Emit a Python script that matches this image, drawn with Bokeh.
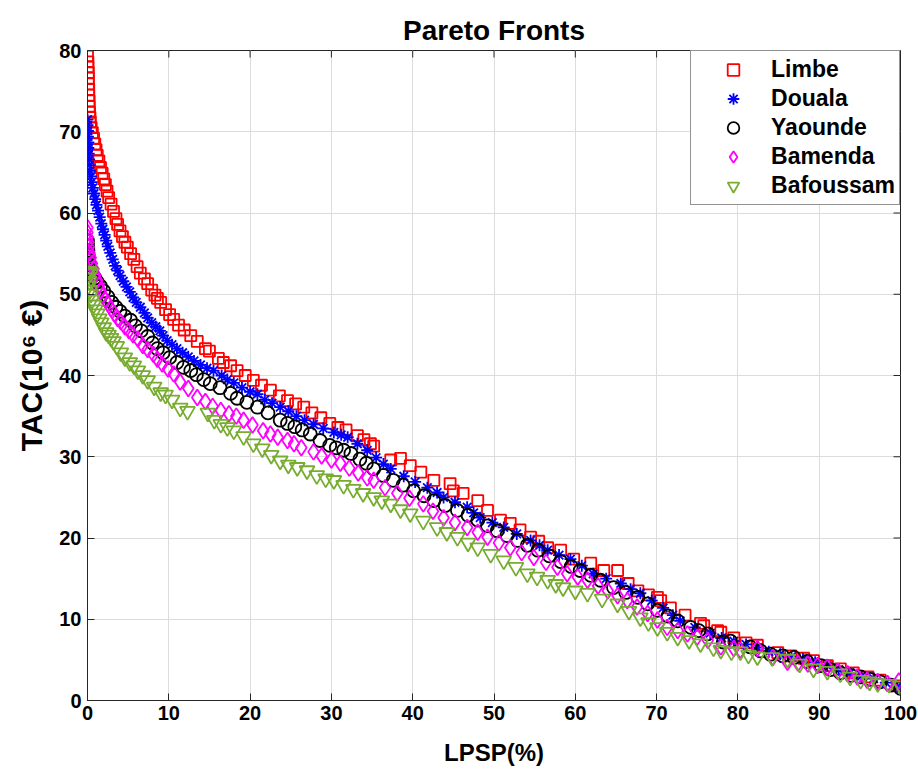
from bokeh.plotting import figure
from bokeh.models import FixedTicker
from bokeh.embed import file_html
from bokeh.resources import INLINE

# ---- Pareto front samples: LPSP (%) vs TAC (10^6 EUR) ----
limbe_x = [0.0, 0.05, 0.05, 0.1, 0.1, 0.1, 0.15, 0.15, 0.2, 0.2, 0.25, 0.3, 0.35, 0.45, 0.6, 0.75, 0.9, 1.05,
           1.2, 1.4, 1.6, 1.8, 2.0, 2.2, 2.4, 2.6, 2.9, 3.2, 3.5, 3.7, 4.0, 4.3, 4.6, 4.9, 5.3, 5.7, 6.1, 6.5,
           7.0, 7.4, 7.9, 8.3, 8.6, 9.0, 9.6, 10.1, 10.6, 11.2, 11.9, 12.7, 13.5, 14.5, 15.0, 16.1, 16.7, 17.6,
           18.4, 19.4, 20.4, 21.4, 22.5, 23.6, 24.6, 25.6, 26.6, 27.6, 28.7, 29.8, 30.8, 31.8, 33.2, 34.0, 34.8,
           35.2, 37.3, 38.5, 39.7, 41.0, 42.6, 44.6, 45.0, 46.2, 48.0, 49.2, 50.8, 52.0, 53.2, 54.5, 55.5, 56.6,
           58.2, 59.8, 61.9, 63.5, 65.2, 66.5, 67.7, 69.0, 70.1, 70.5, 71.7, 73.5, 75.4, 75.8, 77.5, 77.9, 79.5,
           81.0, 82.4, 84.9, 86.5, 88.1, 89.3, 91.0, 92.6, 94.2, 96.0, 97.5, 99.6]
limbe_y = [79.3, 78.6, 78.0, 77.3, 76.6, 75.9, 75.2, 74.5, 73.8, 73.1, 72.4, 71.8, 71.2, 70.5, 69.9, 69.2, 68.5, 67.8,
           67.1, 66.4, 65.6, 64.9, 64.2, 63.5, 62.7, 61.9, 61.1, 60.2, 59.3, 58.6, 57.8, 57.1, 56.4, 55.8, 55.0, 54.3,
           53.4, 52.6, 51.9, 51.3, 50.5, 49.9, 49.5, 49.0, 48.1, 47.5, 46.9, 46.2, 45.6, 44.9, 44.2, 43.3, 43.0, 42.1,
           41.6, 41.2, 40.6, 40.0, 39.4, 38.8, 38.2, 37.5, 36.9, 36.5, 36.1, 35.4, 34.8, 34.1, 33.6, 33.3, 32.6, 32.1,
           31.6, 31.3, 29.6, 29.8, 28.9, 28.1, 27.1, 26.7, 25.8, 25.5, 24.6, 23.4, 22.2, 21.8, 21.0, 20.1, 19.6, 18.8,
           18.5, 17.4, 16.9, 16.0, 16.0, 14.4, 13.5, 13.0, 12.7, 12.3, 11.4, 10.5, 9.5, 9.2, 8.6, 8.4, 7.7,
           7.1, 6.8, 5.9, 5.5, 5.2, 4.9, 4.3, 3.9, 3.4, 2.9, 2.5, 1.8]

douala_x = [0.0, 0.0, 0.05, 0.05, 0.1, 0.1, 0.15, 0.2, 0.25, 0.3, 0.4, 0.5, 0.65, 0.8, 0.95, 1.1, 1.3, 1.5, 1.7,
            1.9, 2.1, 2.3, 2.5, 2.8, 3.1, 3.4, 3.7, 4.0, 4.4, 4.8, 5.2, 5.6, 6.0, 6.5, 7.0, 7.4, 7.9, 8.4, 8.9,
            9.3, 9.8, 10.4, 11.0, 11.7, 12.4, 13.1, 13.9, 14.7, 15.5, 16.5, 17.2, 18.0, 19.0, 20.0, 20.9, 21.8,
            22.7, 23.7, 24.7, 25.7, 26.7, 27.8, 29.0, 30.3, 31.2, 32.0, 33.2, 34.4, 35.5, 36.4, 37.3, 38.9, 40.3,
            41.8, 43.0, 43.8, 45.2, 46.7, 47.5, 48.3, 49.8, 51.2, 52.8, 54.5, 55.6, 56.6, 58.0, 59.4, 60.8, 62.2,
            63.8, 65.6, 66.8, 68.0, 69.4, 70.8, 72.0, 72.9, 74.7, 76.6, 78.0, 79.5, 81.0, 82.4, 83.8, 85.2, 86.6,
            88.0, 89.5, 91.0, 92.4, 93.8, 95.2, 96.7, 98.2, 99.6]
douala_y = [71.5, 70.8, 70.1, 69.4, 68.7, 68.0, 67.3, 66.6, 65.9, 65.2, 64.5, 63.8, 63.1, 62.4, 61.7, 61.0, 60.3, 59.5,
            58.7, 58.0, 57.3, 56.6, 55.9, 55.1, 54.3, 53.5, 52.9, 52.3, 51.6, 50.9, 50.3, 49.6, 49.0, 48.4, 47.7, 47.1,
            46.5, 46.0, 45.5, 44.9, 44.3, 43.8, 43.3, 42.8, 42.3, 41.8, 41.3, 40.9, 40.6, 40.0, 39.5, 39.1, 38.5, 38.0,
            37.7, 37.0, 36.6, 36.1, 35.6, 35.0, 34.5, 34.0, 33.5, 33.0, 32.7, 32.4, 31.6, 30.8, 29.9, 29.1, 28.5, 27.6,
            26.9, 26.2, 25.6, 25.0, 24.4, 23.8, 23.1, 22.5, 21.9, 21.3, 20.5, 19.7, 19.1, 18.5, 17.9, 17.4, 16.6, 15.6,
            15.0, 14.4, 13.7, 13.2, 12.3, 11.4, 10.5, 9.8, 9.0, 8.3, 7.7, 7.3, 6.9, 6.5, 6.0, 5.7, 5.4,
            5.1, 4.7, 4.3, 3.8, 3.4, 3.0, 2.7, 2.2, 1.7]

yaounde_x = [0.0, 0.0, 0.05, 0.1, 0.15, 0.25, 0.4, 0.6, 0.9, 1.2, 1.6, 2.0, 2.5, 3.0, 3.5, 4.0, 4.6, 5.3, 5.9, 6.6,
             7.4, 8.0, 8.6, 9.3, 10.1, 11.0, 11.8, 12.7, 13.4, 14.3, 15.1, 16.3, 17.6, 18.4, 19.6, 20.9, 22.2,
             23.7, 24.6, 25.5, 26.4, 27.4, 28.6, 29.8, 30.6, 31.5, 32.4, 33.5, 34.3, 35.2, 36.4, 37.6, 38.8, 40.1,
             41.4, 42.6, 44.0, 45.5, 46.8, 48.0, 49.2, 50.4, 51.6, 52.9, 54.1, 55.4, 56.8, 58.2, 59.5, 60.6, 61.9,
             63.1, 64.7, 66.2, 67.7, 68.9, 70.1, 71.4, 72.6, 74.2, 75.2, 76.3, 78.2, 79.1, 81.5, 82.8, 84.0, 85.5,
             86.9, 88.5, 90.2, 91.4, 92.6, 93.9, 95.1, 96.3, 97.5, 98.8, 100.0]
yaounde_y = [56.6, 56.0, 55.4, 54.8, 54.2, 53.6, 53.0, 52.5, 52.0, 51.5, 51.0, 50.4, 49.7, 49.0, 48.4, 47.9, 47.3, 46.8,
             46.1, 45.5, 44.8, 44.0, 43.3, 42.8, 42.2, 41.6, 41.0, 40.6, 40.1, 39.5, 39.0, 38.5, 37.8, 37.2, 36.7, 36.1,
             35.4, 34.5, 34.1, 33.7, 33.3, 32.8, 32.0, 31.4, 31.1, 30.8, 30.4, 29.7, 29.2, 28.5, 27.7, 27.1, 26.5, 25.8,
             25.2, 24.6, 24.0, 23.4, 22.8, 22.2, 21.5, 20.9, 20.3, 19.7, 19.1, 18.5, 17.8, 17.1, 16.5, 16.0, 15.4,
             14.8, 13.9, 13.3, 12.7, 11.9, 11.1, 10.4, 9.8, 9.0, 8.6, 8.2, 7.2, 7.3, 6.6, 6.1, 5.7, 5.5,
             5.3, 4.8, 4.3, 3.8, 3.4, 3.1, 2.9, 2.6, 2.3, 1.9, 1.5]

bamenda_x = [0.0, 0.0, 0.05, 0.1, 0.15, 0.25, 0.4, 0.55, 0.75, 0.95, 1.2, 1.4, 1.6, 1.9, 2.2, 2.5, 2.9, 3.3, 3.7,
             4.1, 4.6, 5.1, 5.6, 6.2, 6.8, 7.4, 8.1, 8.6, 9.2, 9.9, 10.6, 11.4, 12.4, 13.5, 14.5, 15.4, 16.4, 17.4,
             18.3, 19.2, 20.3, 21.6, 22.5, 23.4, 24.6, 25.4, 26.3, 27.8, 28.8, 30.0, 31.1, 32.2, 33.3, 34.4, 35.2,
             36.6, 38.1, 39.6, 41.3, 42.5, 43.8, 45.2, 46.7, 48.0, 49.2, 50.6, 52.0, 53.4, 54.9, 56.4, 57.8, 59.0,
             60.3, 61.5, 62.8, 64.0, 65.2, 66.4, 67.6, 68.9, 70.1, 71.3, 72.6, 73.8, 75.0, 76.3, 77.9, 79.5, 80.3,
             82.4, 84.3, 86.1, 87.4, 88.6, 89.8, 91.0, 92.3, 93.5, 94.7, 95.9, 97.2, 98.4, 99.8]
bamenda_y = [58.2, 57.6, 57.0, 56.4, 55.8, 55.1, 54.5, 53.8, 53.1, 52.4, 51.7, 51.1, 50.5, 49.8, 49.3, 48.9, 48.2, 47.6,
             47.0, 46.6, 46.0, 45.5, 45.0, 44.5, 43.7, 43.2, 42.6, 42.0, 41.4, 40.8, 40.2, 39.2, 38.4, 37.3, 36.8, 36.2,
             35.7, 35.3, 35.0, 34.5, 33.9, 33.2, 32.8, 32.4, 32.0, 31.6, 31.1, 30.6, 30.1, 29.6, 29.2, 28.6, 28.0, 27.4,
             27.1, 26.2, 25.5, 24.9, 24.2, 23.3, 22.5, 21.9, 21.3, 20.7, 20.1, 19.4, 18.8, 18.2, 17.6, 17.0, 16.4, 15.6,
             15.2, 14.8, 14.1, 13.5, 12.9, 12.3, 11.5, 10.7, 9.9, 9.0, 8.6, 8.2, 7.8, 7.4, 6.6, 6.4, 6.2,
             6.4, 5.3, 4.7, 4.6, 4.5, 4.3, 4.1, 3.6, 3.3, 2.9, 2.5, 2.3, 2.1, 2.4]

bafoussam_x = [0.0, 0.2, 0.4, 0.0, 0.2, 0.1, 0.3, 0.4, 0.55, 0.75, 0.95, 1.2, 1.45, 1.7, 2.0, 2.3, 2.6, 2.9, 3.2,
               3.6, 4.1, 4.6, 5.2, 5.7, 6.2, 6.8, 7.4, 8.2, 9.0, 9.6, 10.4, 11.4, 12.3, 14.8, 15.6, 16.4, 17.2,
               18.0, 19.2, 20.4, 21.5, 22.6, 23.7, 24.7, 25.8, 27.0, 28.2, 29.3, 30.3, 31.5, 32.7, 33.9, 35.2,
               36.2, 37.3, 38.5, 39.7, 41.3, 43.0, 44.2, 45.5, 46.8, 48.0, 49.6, 51.2, 52.7, 54.1, 55.3, 56.6,
               57.6, 58.5, 60.0, 61.5, 63.3, 65.2, 66.6, 68.0, 69.0, 70.1, 71.3, 72.6, 74.0, 75.4, 77.0, 77.9,
               79.2, 80.3, 81.3, 82.4, 84.2, 86.1, 87.6, 89.3, 91.0, 92.6, 93.8, 95.1, 96.2, 97.2, 98.6, 100.0]
bafoussam_y = [52.8, 52.8, 52.6, 52.0, 51.6, 51.0, 50.5, 50.0, 49.3, 48.7, 48.1, 47.6, 47.0, 46.5, 45.9, 45.3, 45.0,
               44.6, 44.2, 43.6, 42.8, 42.2, 41.6, 41.2, 40.6, 40.0, 39.4, 38.6, 37.9, 37.6, 37.0, 36.0, 35.6, 35.4,
               34.5, 34.0, 33.6, 33.2, 32.5, 31.6, 31.0, 30.2, 29.5, 29.0, 28.7, 28.3, 27.7, 27.3, 27.1, 26.5, 26.0,
               25.5, 25.0, 24.6, 24.2, 23.5, 23.0, 22.1, 21.3, 20.7, 20.1, 19.4, 18.8, 18.0, 17.2, 16.4, 15.6, 15.2,
               14.8, 14.3, 13.9, 13.5, 13.2, 12.5, 11.9, 11.0, 10.2, 9.6, 9.0, 8.4, 7.8, 7.4, 7.0, 6.5, 6.2,
               6.0, 6.0, 5.6, 5.4, 5.3, 5.1, 4.5, 3.9, 3.6, 3.3, 2.9, 2.5, 2.3, 2.1, 2.0, 1.8]

series_names = ["Limbe", "Douala", "Yaounde", "Bamenda", "Bafoussam"]
x_ticks = [0, 10, 20, 30, 40, 50, 60, 70, 80, 90, 100]
y_ticks = [0, 10, 20, 30, 40, 50, 60, 70, 80]

FONT = "Liberation Sans"
AXIS_COLOR = "#262626"
FRAME_W, FRAME_H = 813, 650          # plot-area size in pixels
X_MIN, X_MAX, Y_MIN, Y_MAX = 0, 100, 0, 80
TICK_PX = 7

p = figure(width=918, height=773, x_range=(X_MIN, X_MAX), y_range=(Y_MIN, Y_MAX),
           output_backend="svg", toolbar_location=None,
           min_border_left=87, min_border_right=918 - 87 - FRAME_W,
           min_border_top=50, min_border_bottom=773 - 50 - FRAME_H,
           title="Pareto Fronts")

p.title.text_font = FONT
p.title.text_font_size = "28px"
p.title.text_font_style = "bold"
p.title.align = "center"
p.title.text_color = "black"
p.title.offset = 0
p.title.standoff = 10

p.xgrid.ticker = FixedTicker(ticks=x_ticks)
p.ygrid.ticker = FixedTicker(ticks=y_ticks)
p.grid.grid_line_color = "#DCDCDC"
p.grid.grid_line_width = 1
p.outline_line_color = AXIS_COLOR
p.outline_line_width = 1

# inward ticks along the top and right edges of the box
tick_dy = TICK_PX * (Y_MAX - Y_MIN) / FRAME_H
tick_dx = TICK_PX * (X_MAX - X_MIN) / FRAME_W
p.segment(x0=x_ticks, y0=[Y_MAX] * len(x_ticks), x1=x_ticks, y1=[Y_MAX - tick_dy] * len(x_ticks),
          line_color=AXIS_COLOR, line_width=1)
p.segment(x0=[X_MAX] * len(y_ticks), y0=y_ticks, x1=[X_MAX - tick_dx] * len(y_ticks), y1=y_ticks,
          line_color=AXIS_COLOR, line_width=1)

# marker style per series
styles = [
    dict(marker="square", color="#FF0000", size=11),
    dict(marker="asterisk", color="#0000FF", size=12),
    dict(marker="circle", color="#000000", size=13),
    dict(marker="diamond", color="#FF00FF", size=16),
    dict(marker="inverted_triangle", color="#77AC30", size=15),
]
data = [(limbe_x, limbe_y), (douala_x, douala_y), (yaounde_x, yaounde_y),
        (bamenda_x, bamenda_y), (bafoussam_x, bafoussam_y)]

for name, (xs, ys), st in zip(series_names, data, styles):
    p.scatter(xs, ys, marker=st["marker"], size=st["size"], line_color=st["color"],
              fill_color=None, line_width=1.8, legend_label=name)

# axes styling
for ax in (p.xaxis[0], p.yaxis[0]):
    ax.axis_line_color = AXIS_COLOR
    ax.major_tick_line_color = AXIS_COLOR
    ax.major_tick_in = TICK_PX
    ax.major_tick_out = 0
    ax.minor_tick_line_color = None
    ax.major_label_text_font = FONT
    ax.major_label_text_font_style = "bold"
    ax.major_label_text_font_size = "20px"
    ax.major_label_text_color = "black"
    ax.axis_label_text_font = FONT
    ax.axis_label_text_font_style = "bold"
    ax.axis_label_text_color = "black"

p.xaxis.ticker = FixedTicker(ticks=x_ticks)
p.yaxis.ticker = FixedTicker(ticks=y_ticks)
p.xaxis.axis_label = "LPSP(%)"
p.xaxis.axis_label_text_font_size = "24px"
p.xaxis.major_label_standoff = 5
p.xaxis.axis_label_standoff = 16
p.yaxis.axis_label = "TAC(10\u2076 \u20ac)"
p.yaxis.axis_label_text_font_size = "30px"
p.yaxis.major_label_standoff = 6
p.yaxis.axis_label_standoff = 8

leg = p.legend[0]
leg.location = "top_right"
leg.margin = 0
leg.padding = 4
leg.spacing = 0
leg.glyph_height = 29
leg.label_height = 29
leg.glyph_width = 76
leg.label_standoff = 0
leg.label_text_font = FONT
leg.label_text_font_style = "bold"
leg.label_text_font_size = "23px"
leg.label_text_color = "black"
leg.border_line_color = AXIS_COLOR
leg.border_line_width = 1
leg.background_fill_alpha = 1

open("out.html", "w").write(file_html(p, INLINE))
